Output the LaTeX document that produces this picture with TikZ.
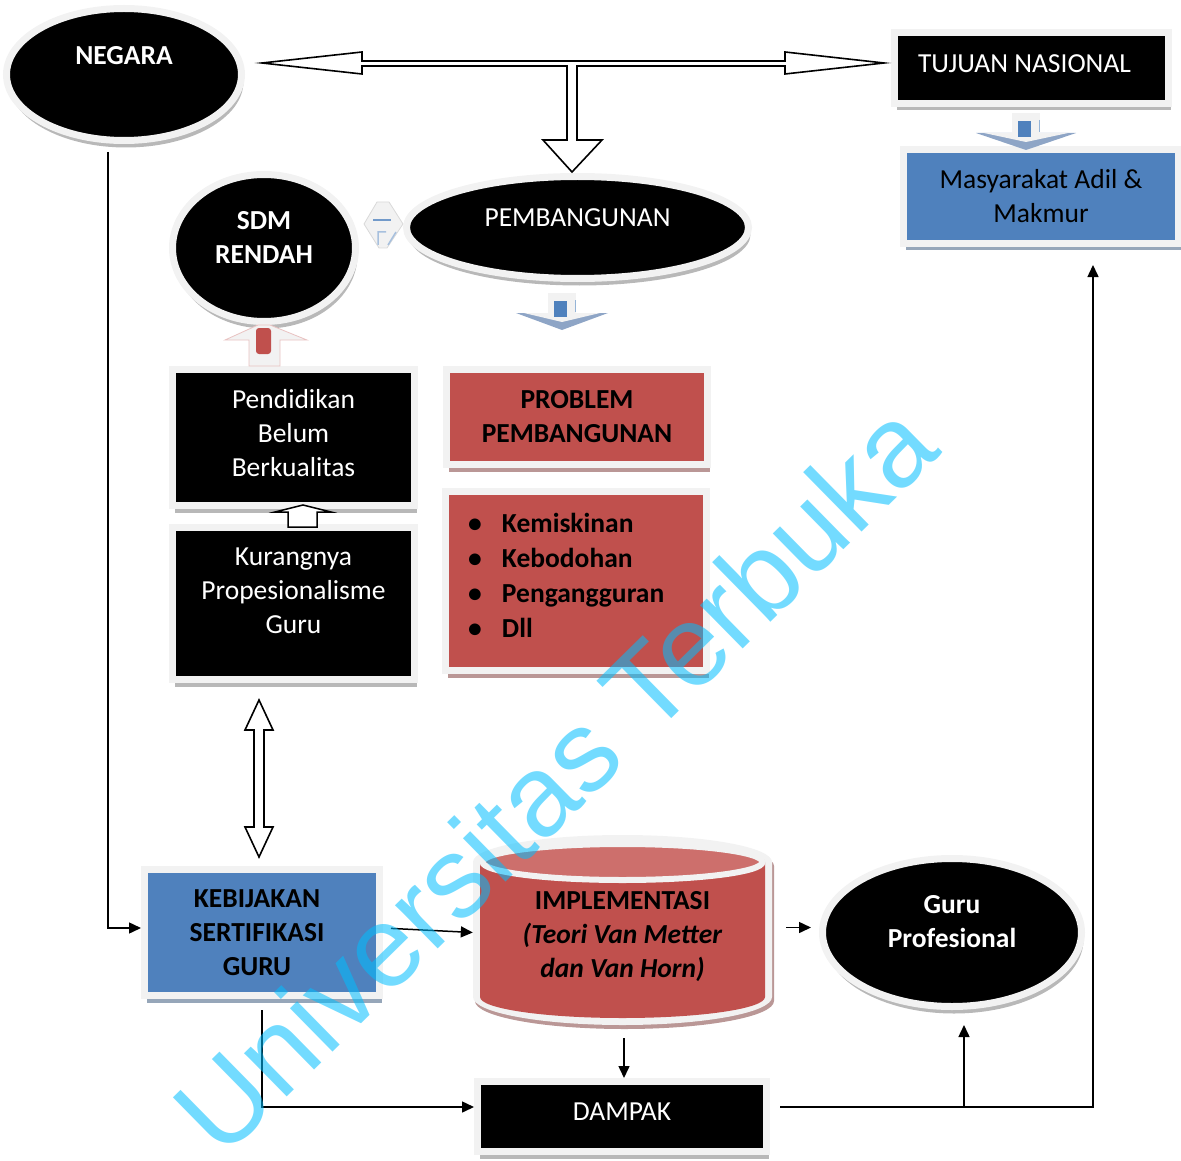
\documentclass[tikz,border=0pt]{standalone}
\usepackage{fontspec}
\setmainfont{Carlito}
\newfontfamily\wmfont{Liberation Sans}
\usetikzlibrary{arrows.meta,positioning,calc,shapes.geometric,shadows}
\definecolor{frm}{HTML}{F2F2F2}
\definecolor{blu}{HTML}{4F81BD}
\definecolor{rd}{HTML}{C0504D}
\definecolor{rdtop}{HTML}{CD6F6C}
\definecolor{stl}{HTML}{8EA5C6}
\definecolor{wmc}{RGB}{0,190,255}
\newcommand\bigtxt{\fontsize{27.5pt}{34pt}\selectfont}
\tikzset{>=Stealth,
  arr/.style={-{Triangle[length=12pt,width=11pt]}, line width=1.5pt},
  frmline/.style={draw=frm, line width=7pt},
  frmd/.style={frmline, drop shadow={shadow xshift=2pt, shadow yshift=-7pt, fill=#1, opacity=1}},
  frmd/.default=black!28,
  blkbox/.style={frmd, rectangle, fill=black, text=white, align=center},
  blkoval/.style={frmd, ellipse, fill=black, text=white, align=center},
  blubox/.style={frmd={blu!45!gray!70}, rectangle, fill=blu, align=center},
  rdbox/.style={frmd={rd!45!gray!70}, rectangle, fill=rd, align=center},
  wt/.style={text=white, align=center},
  hollow/.style={draw=black, fill=white, line width=1.6pt, line join=miter},
  wmark/.style={font=\wmfont\fontsize{115pt}{115pt}\selectfont, text=wmc, text opacity=.55, inner sep=0pt}
}

\begin{document}
\begin{tikzpicture}[x=1pt, y=-1pt, font=\bigtxt]
  \useasboundingbox (0,0) rectangle (1181,1161);
  % top row
  \node[blkoval, minimum width=235pt, minimum height=132pt, label={[wt, font=\bigtxt\bfseries, yshift=19pt]center:NEGARA}] (negara) at (124,74.5) {};
  \node[blkbox, minimum width=274pt, minimum height=71pt, label={[wt, xshift=-7pt, yshift=4pt]center:TUJUAN NASIONAL}] (tujuan) at (1031.5,68) {};
  \node[blubox, minimum width=275pt, minimum height=94pt] (masy) at (1041,196.5) {Masyarakat Adil \&\\Makmur};
  \node[blkoval, minimum width=183pt, minimum height=147pt, label={[wt, font=\bigtxt\bfseries, yshift=11pt]center:{SDM\\RENDAH}}] (sdm) at (264,248) {};
  \node[blkoval, minimum width=342pt, minimum height=102pt, label={[wt, yshift=9.5pt]center:PEMBANGUNAN}] (pemb) at (577.5,227.5) {};
  % middle boxes
  \node[blkbox, minimum width=242pt, minimum height=136pt, label={[wt, yshift=4pt]center:{Pendidikan\\Belum\\Berkualitas}}] (pend) at (293.5,437.5) {};
  \node[blkbox, minimum width=242pt, minimum height=152pt, label={[wt, yshift=12.5pt]center:{Kurangnya\\Propesionalisme\\Guru}}] (kurang) at (293.5,603.5) {};
  \node[rdbox, minimum width=261pt, minimum height=95pt, font=\bigtxt\bfseries] (problem) at (577,417) {PROBLEM\\PEMBANGUNAN};
  \node[rdbox, minimum width=261pt, minimum height=179pt, label={[align=left, text width=216pt, font=\bigtxt\bfseries, yshift=5.5pt]center:{%
      \makebox[34pt][l]{\textbullet}Kemiskinan\\[1pt]\makebox[34pt][l]{\textbullet}Kebodohan\\[1pt]%
      \makebox[34pt][l]{\textbullet}Pengangguran\\[1pt]\makebox[34pt][l]{\textbullet}Dll}}] (probs) at (576,581) {};
  % bottom row
  \node[blubox, minimum width=235pt, minimum height=126pt, label={[font=\bigtxt\bfseries, align=center, xshift=-5pt]center:{KEBIJAKAN\\SERTIFIKASI\\GURU}}] (kebij) at (262,932.5) {};
  % cylinder
  \fill[rd!45!gray!70] (475,866) -- (475,1001) arc[start angle=180, end angle=360, x radius=149.5pt, y radius=28pt]
    -- (774,866) arc[start angle=0, end angle=180, x radius=149.5pt, y radius=27pt] -- cycle;
  \fill[frm] (473,862) -- (473,997) arc[start angle=180, end angle=360, x radius=149.5pt, y radius=28pt]
    -- (772,862) arc[start angle=0, end angle=180, x radius=149.5pt, y radius=27pt] -- cycle;
  \fill[rd] (480,862) -- (480,997) arc[start angle=180, end angle=360, x radius=142.5pt, y radius=21pt]
    -- (765,862) arc[start angle=0, end angle=180, x radius=142.5pt, y radius=20pt] -- cycle;
  \filldraw[fill=rdtop, draw=frm, line width=6pt] (622.5,862) ellipse[x radius=140pt, y radius=18pt];
  \node[minimum width=299pt, minimum height=199pt, label={[font=\bigtxt\bfseries, align=center, yshift=-9.5pt]center:{IMPLEMENTASI\\\textit{(Teori Van Metter}\\\textit{dan Van Horn)}}}] (impl) at (622.5,927.5) {};
  \node[blkoval, minimum width=259pt, minimum height=148pt, label={[wt, font=\bigtxt\bfseries, yshift=10.5pt]center:{Guru\\Profesional}}] (guru) at (952,932.5) {};
  \node[blkbox, minimum width=289pt, minimum height=70pt, label={[wt, yshift=5pt]center:DAMPAK}] (dampak) at (622,1116.5) {};

  % block arrows
  \draw[hollow] (262,63) -- (362,52) -- (362,61) -- (785,61) -- (785,52) -- (884,63) -- (785,74) -- (785,66) -- (577,66)
    -- (577,140) -- (602,140) -- (572,172) -- (543,140) -- (567,140) -- (567,66) -- (362,66) -- (362,74) -- cycle;
  \draw[hollow] (259,700) -- (273,730) -- (264,730) -- (264,827) -- (273,827) -- (259,857) -- (245,827) -- (254,827)
    -- (254,730) -- (245,730) -- cycle;
  \draw[hollow, line width=1.5pt] (288,527) -- (288,512) -- (275,512) -- (303,505) -- (331,512) -- (317,512) -- (317,527) -- cycle;
  \foreach \ax/\ay/\hw in {562/293/46, 1026/113/50} {
    \fill[stl] (\ax-\hw,\ay+20) -- (\ax+\hw,\ay+20) -- (\ax,\ay+37) -- cycle;
    \fill[frm] (\ax-\hw+8,\ay+20) -- (\ax+\hw-8,\ay+20) -- (\ax,\ay+29) -- cycle;
    \fill[frm] (\ax-14,\ay) rectangle (\ax+14,\ay+21);
    \fill[blu] (\ax-8,\ay+8) rectangle (\ax+5,\ay+24);
    \draw[blu!60, line width=1pt] (\ax+13,\ay+7) -- (\ax+13,\ay+19);
  }
  \filldraw[fill=frm, draw=rd!35, line width=.8pt] (249,366) -- (249,340) -- (225,340) -- (258,325) -- (270,325) -- (307,340)
    -- (280,340) -- (280,366) -- cycle;
  \fill[rd, rounded corners=3pt] (256,354) -- (256,328) -- (271,328) -- (271,354) -- cycle;
  \filldraw[fill=frm, draw=black!15, line width=.8pt] (377,202) -- (389,202) -- (403,224) -- (387,248) -- (379,248) -- (364,224) -- cycle;
  \draw[blu!80, line width=1.5pt] (373,220) -- (391,220);
  \draw[blu!50, line width=1.5pt] (378,245) |- (386,232) (388,245) -- (396,232);

  % connectors
  \draw[arr, shorten <=8pt] ([xshift=-16pt]negara.south) |- ([yshift=4.5pt]kebij.west);
  \draw[arr, shorten <=8pt] ([yshift=4.5pt]kebij.east) -- (kebij.east -| impl.west);
  \draw[arr, shorten <=14pt, shorten >=8pt] (impl.east) -- (impl.east -| guru.west);
  \draw[arr, shorten <=11pt] ([xshift=1.5pt]impl.south) -- ([xshift=1.5pt]impl.south |- dampak.north);
  \draw[arr, shorten <=11pt] (kebij.south) |- ([yshift=9.5pt]dampak.west);
  \coordinate (dk) at ([yshift=9.5pt]dampak.east);
  \draw[arr, shorten <=10pt, shorten >=18pt] (dk) -| ([xshift=52pt]masy.south);
  \draw[arr, shorten >=15pt] ([xshift=12pt]guru.south |- dk) -- ([xshift=12pt]guru.south);

  % watermark
  \node[wmark, rotate=44.5] (wm) at (554,777) {Universitas Terbuka};
\end{tikzpicture}
\end{document}
